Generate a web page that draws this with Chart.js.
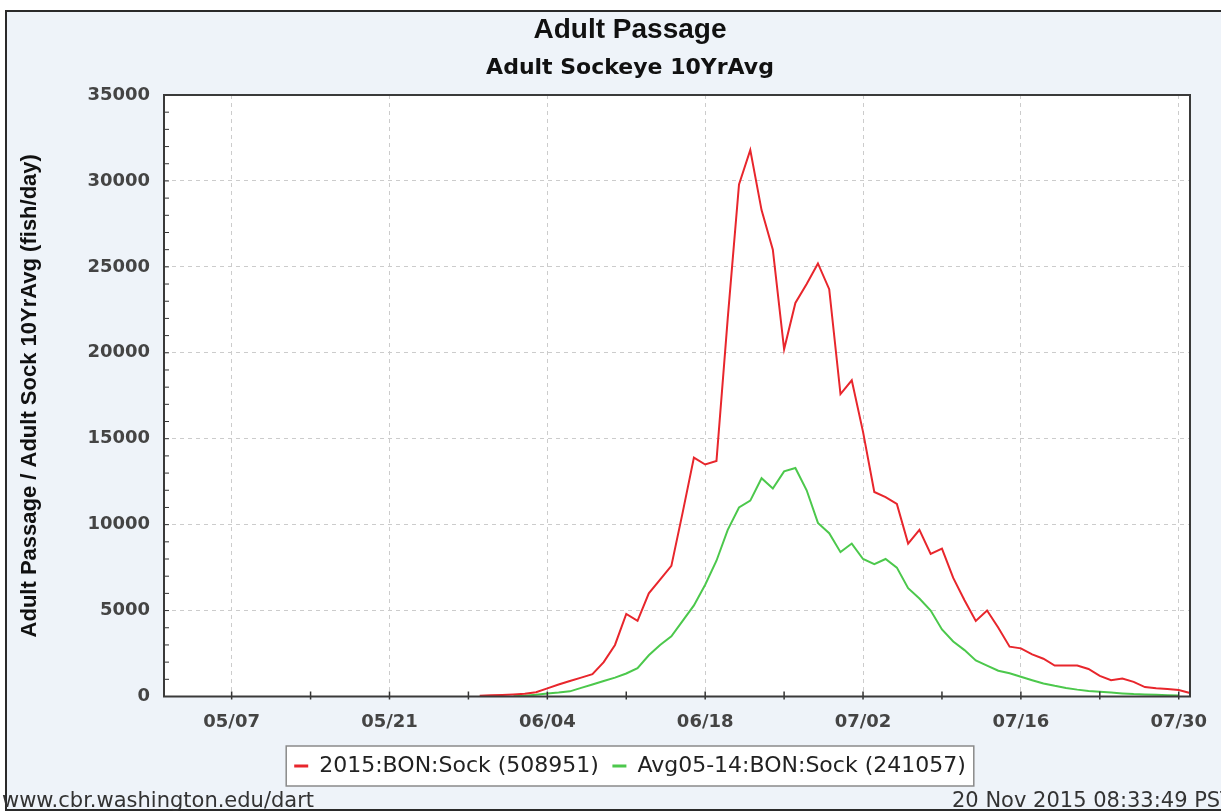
<!DOCTYPE html>
<html>
<head>
<meta charset="utf-8">
<script src="https://cdn.jsdelivr.net/npm/chart.js@4.4.0/dist/chart.umd.min.js"></script>
<style>
  html, body { margin: 0; padding: 0; width: 1221px; height: 811px; overflow: hidden; background: #fff; }
  #frame { position: absolute; left: 5px; top: 10px; width: 1240px; height: 797px; border: 2px solid #2a2a2a; background: #eef3f9; }
  #chart { position: absolute; left: 0; top: 0; }
  .foot { position: absolute; top: 776px; font-family: "DejaVu Sans", sans-serif; font-size: 21px; color: #333; white-space: nowrap; }
</style>
</head>
<body>
<div id="frame">
  <canvas id="chart" width="1240" height="797"></canvas>
  <div class="foot" style="left:-5px">www.cbr.washington.edu/dart</div>
  <div class="foot" style="left:945px">20 Nov 2015 08:33:49 PST</div>
</div>
<script>
// eje x: un punto por día, del 05/01 al 07/31
const firstDay = new Date(2015, 4, 1);
const lastDay = new Date(2015, 6, 31);
const dates = [];
for (let d = new Date(firstDay); d <= lastDay; d.setDate(d.getDate() + 1)) {
  const mm = String(d.getMonth() + 1).padStart(2, '0');
  const dd = String(d.getDate()).padStart(2, '0');
  dates.push(mm + '/' + dd);
}

const xTickLabels = ['05/07', '05/21', '06/04', '06/18', '07/02', '07/16', '07/30'];
const yTicks = [0, 5000, 10000, 15000, 20000, 25000, 30000, 35000];

// 2015 Bonneville, desde el 05/29
const redStart = '05/29';
const redValues = [
  50, 70, 90, 120, 160, 250,
  470, 700, 900, 1100, 1300, 2000, 3000,
  4800, 4400, 6000, 6800, 7600,
  10700, 13900, 13500, 13700,
  22000, 29800, 31800, 28300, 26000,
  20200, 22900, 24000, 25200, 23700,
  17600, 18400, 15400, 11900, 11600, 11200,
  8900, 9700, 8300, 8600, 6900, 5600,
  4400, 5000, 4000, 2900, 2800, 2450, 2200,
  1800, 1800, 1800, 1600, 1200, 950, 1050,
  850, 550, 480, 430, 380, 200
];

// promedio 2005-2014, desde el 06/01
const greenStart = '06/01';
const greenValues = [
  20, 50, 100, 175, 230, 300, 500, 700, 900, 1100, 1340, 1650,
  2400, 3000, 3500, 4400, 5300, 6500, 7900,
  9700, 11000, 11400, 12700, 12100, 13100, 13300,
  12000, 10100, 9500, 8400, 8900, 8000, 7700,
  8000, 7500, 6300, 5700, 5000, 3900, 3200,
  2700, 2100, 1800, 1500, 1350, 1150, 950,
  760, 620, 500, 400, 320, 270, 230, 180, 140, 120, 100, 80, 60
];

function alinear(start, values) {
  const out = dates.map(() => null);
  const i0 = dates.indexOf(start);
  values.forEach((v, i) => { out[i0 + i] = v; });
  return out;
}

const gridColor = '#cccccc';

// fondo blanco del área, recuadro de leyenda, marco y marcas de ejes
const marcoPlugin = {
  id: 'marco',
  beforeDraw(chart) {
    const { ctx, chartArea: a } = chart;
    ctx.save();
    ctx.fillStyle = '#ffffff';
    ctx.fillRect(a.left, a.top, a.right - a.left, a.bottom - a.top);
    const boxes = chart.legend.legendHitBoxes || [];
    if (boxes.length) {
      const x0 = Math.min(...boxes.map(b => b.left)) - 8;
      const x1 = Math.max(...boxes.map(b => b.left + b.width)) + 8;
      const yc = boxes[0].top + boxes[0].height / 2;
      ctx.fillRect(x0, yc - 20, x1 - x0, 40);
      ctx.strokeStyle = '#8a8a8a';
      ctx.lineWidth = 1.5;
      ctx.strokeRect(x0, yc - 20, x1 - x0, 40);
    }
    ctx.restore();
  },
  afterDatasetsDraw(chart) {
    const { ctx, chartArea: a } = chart;
    const xs = chart.scales.x;
    const ys = chart.scales.y;
    ctx.save();
    ctx.strokeStyle = '#333333';
    ctx.lineWidth = 1.5;
    // marcas del eje x cada 7 días
    dates.forEach((d, i) => {
      if ((i - dates.indexOf('05/07')) % 7 !== 0) return;
      const x = xs.getPixelForValue(i);
      ctx.beginPath();
      ctx.moveTo(x, a.bottom - 5);
      ctx.lineTo(x, a.bottom + 3);
      ctx.stroke();
    });
    // marcas menores del eje y
    ctx.lineWidth = 1;
    for (let v = 1000; v < 35000; v += 1000) {
      const y = ys.getPixelForValue(v);
      ctx.beginPath();
      ctx.moveTo(a.left, y);
      ctx.lineTo(a.left + 5, y);
      ctx.stroke();
    }
    ctx.lineWidth = 2;
    ctx.strokeStyle = '#3a3a3a';
    ctx.strokeRect(a.left, a.top, a.right - a.left, a.bottom - a.top);
    ctx.restore();
  }
};

const tickFont = { family: 'DejaVu Sans', weight: 'bold', size: 18 };

new Chart(document.getElementById('chart'), {
  type: 'line',
  data: {
    labels: dates,
    datasets: [{
      label: '2015:BON:Sock (508951)',
      data: alinear(redStart, redValues),
      borderColor: '#e8262c',
      backgroundColor: '#e8262c',
      borderWidth: 2,
      pointRadius: 0,
      tension: 0,
      spanGaps: false
    }, {
      label: 'Avg05-14:BON:Sock (241057)',
      data: alinear(greenStart, greenValues),
      borderColor: '#4cc84c',
      backgroundColor: '#4cc84c',
      borderWidth: 2,
      pointRadius: 0,
      tension: 0,
      spanGaps: false
    }]
  },
  options: {
    responsive: false,
    animation: false,
    devicePixelRatio: 1,
    layout: { padding: { top: 0, left: 63, right: 57, bottom: 22 } },
    plugins: {
      title: {
        display: true,
        text: 'Adult Passage',
        color: '#111',
        font: { family: 'Liberation Sans', weight: 'bold', size: 28 },
        padding: { top: 1.2, bottom: 0 }
      },
      subtitle: {
        display: true,
        text: 'Adult Sockeye 10YrAvg',
        color: '#111',
        font: { family: 'DejaVu Sans', weight: 'bold', size: 22 },
        padding: { top: 8, bottom: 13.8 }
      },
      legend: {
        position: 'bottom',
        labels: {
          boxWidth: 14,
          boxHeight: 3,
          padding: 13.5,
          color: '#222',
          font: { family: 'DejaVu Sans', size: 22 },
          generateLabels(chart) {
            return Chart.defaults.plugins.legend.labels.generateLabels(chart)
              .map(l => Object.assign(l, { lineWidth: 0 }));
          }
        }
      },
      tooltip: { enabled: false }
    },
    scales: {
      x: {
        type: 'category',
        afterFit(scale) { scale.height = 45; },
        grid: {
          drawTicks: false,
          color: c => xTickLabels.includes(dates[c.index]) ? gridColor : 'rgba(0,0,0,0)'
        },
        border: { display: false, dash: [4, 4] },
        ticks: {
          autoSkip: false,
          maxRotation: 0,
          padding: 15,
          color: '#444',
          font: tickFont,
          callback: (v, i) => xTickLabels.includes(dates[i]) ? dates[i] : ''
        }
      },
      y: {
        min: 0,
        max: 35000,
        afterFit(scale) { scale.width = 94; },
        afterBuildTicks(scale) { scale.ticks = yTicks.map(v => ({ value: v })); },
        grid: {
          drawTicks: false,
          color: c => (c.tick && c.tick.value > 0 && c.tick.value < 35000) ? gridColor : 'rgba(0,0,0,0)'
        },
        border: { display: false, dash: [4, 4] },
        ticks: {
          padding: 14,
          color: '#444',
          font: tickFont,
          callback: v => String(v)
        },
        title: {
          display: true,
          text: 'Adult Passage / Adult Sock 10YrAvg (fish/day)',
          color: '#111',
          font: { family: 'Liberation Sans', weight: 'bold', size: 22 },
          // el título queda fuera de la caja del eje, a la izquierda
          padding: { top: -53.2, bottom: 0 }
        }
      }
    }
  },
  plugins: [marcoPlugin]
});
</script>
</body>
</html>
